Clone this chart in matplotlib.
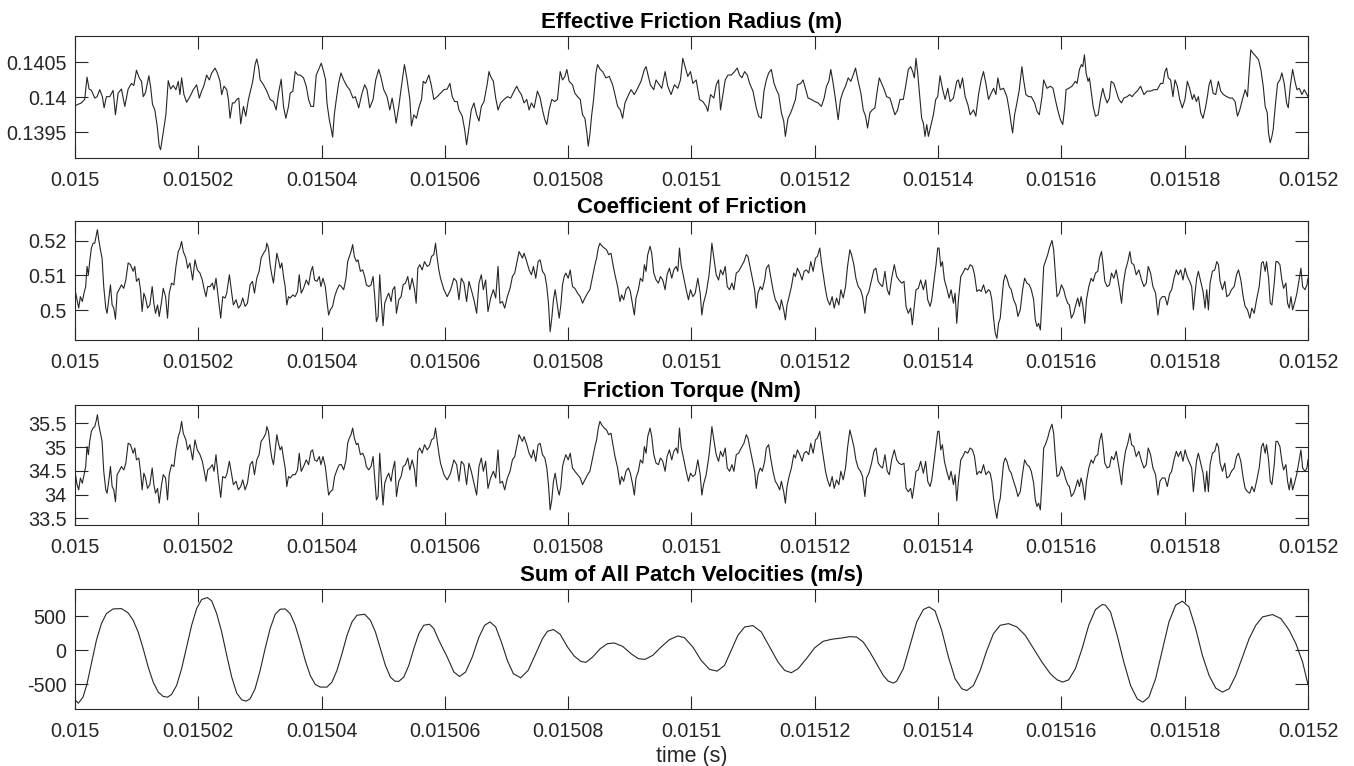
import numpy as np
import matplotlib
matplotlib.use("Agg")
import matplotlib.pyplot as plt
from matplotlib.ticker import FixedLocator, FixedFormatter

# time axis ticks
x_ticks = [0.015 + k * 0.00002 for k in range(11)]
x_labels = ["0.015", "0.01502", "0.01504", "0.01506", "0.01508", "0.0151",
            "0.01512", "0.01514", "0.01516", "0.01518", "0.0152"]

titles = ["Effective Friction Radius (m)", "Coefficient of Friction",
          "Friction Torque (Nm)", "Sum of All Patch Velocities (m/s)"]

# ---- effective friction radius: time in microseconds after 0.015 s ----
t_radius_us = [
    0.00, 0.49, 1.03, 1.57, 1.95, 2.28, 2.66, 3.20, 3.58, 4.01,
    4.44, 4.72, 5.09, 5.64, 6.18, 6.56, 6.99, 7.53, 8.08, 8.62,
    9.16, 9.54, 9.97, 10.41, 10.79, 11.06, 11.44, 11.98, 12.25, 12.57,
    12.95, 13.33, 13.66, 13.88, 14.15, 14.42, 14.74, 15.12, 15.50, 15.93,
    16.37, 16.75, 17.02, 17.29, 17.67, 18.10, 18.64, 19.19, 19.73, 20.16,
    20.54, 20.92, 21.35, 21.79, 22.17, 22.71, 23.09, 23.52, 23.79, 24.17,
    24.61, 24.88, 25.15, 25.53, 25.85, 26.23, 26.56, 26.88, 27.32, 27.70,
    28.13, 28.51, 28.83, 29.21, 29.48, 29.76, 30.03, 30.57, 31.11, 31.65,
    32.19, 32.63, 33.01, 33.44, 33.82, 34.20, 34.63, 34.90, 35.34, 35.72,
    36.15, 36.53, 37.07, 37.51, 37.89, 38.27, 38.70, 39.13, 39.51, 39.95,
    40.32, 40.65, 40.87, 41.25, 41.57, 41.79, 42.06, 42.38, 42.76, 43.14,
    43.58, 44.12, 44.55, 45.09, 45.47, 46.02, 46.56, 46.99, 47.37, 47.80,
    48.35, 48.78, 49.27, 49.65, 50.08, 50.62, 51.06, 51.44, 51.82, 52.09,
    52.52, 52.95, 53.44, 53.87, 54.31, 54.58, 54.96, 55.39, 55.77, 56.21,
    56.48, 56.86, 57.40, 57.78, 58.21, 58.75, 59.29, 59.84, 60.38, 60.81,
    61.19, 61.57, 62.00,
    62.28, 62.82, 63.20, 63.52, 63.90, 64.28, 64.71, 65.15, 65.53, 65.91,
    66.34, 66.88, 67.15, 67.42, 67.86, 68.24, 68.62, 69.05, 69.59, 70.13,
    70.68, 71.22, 71.65, 72.03, 72.41, 72.84, 73.28, 73.66, 74.04, 74.47,
    75.01, 75.45, 75.83, 76.21, 76.53, 76.91, 77.34, 77.83, 78.26, 78.70,
    79.08, 79.46, 79.78, 80.16, 80.70, 81.08, 81.52, 81.95, 82.33, 82.71,
    83.03, 83.25, 83.52, 83.79, 84.12, 84.50, 84.77, 85.20, 85.58, 86.12,
    86.67, 87.21, 87.59, 88.02, 88.45, 88.83, 89.21, 89.65, 90.19, 90.73,
    91.27, 91.81, 92.36, 92.63, 93.01, 93.33, 93.87, 94.25, 94.80, 95.18,
    95.72, 96.15, 96.69, 97.23, 97.78, 98.21, 98.59, 98.97, 99.40, 99.84,
    100.22, 100.76, 101.30, 101.84, 102.38, 102.65, 103.09, 103.63, 104.01, 104.39,
    104.71, 105.09, 105.47, 105.91, 106.45, 106.99, 107.42, 107.80, 108.18, 108.62,
    109.05, 109.43, 109.97, 110.51, 110.89, 111.33, 111.76, 112.14, 112.52, 112.95,
    113.39, 113.77, 114.15, 114.58, 114.96, 115.23, 115.66, 116.10, 116.48, 116.86,
    117.18, 117.72, 118.10, 118.48, 118.91, 119.46, 120.00, 120.54, 121.08, 121.52,
    121.90, 122.28, 122.60, 122.98, 123.36, 123.79, 124.17, 124.61, 124.99, 125.42,
    125.85, 126.23, 126.61, 127.04, 127.48, 127.86, 128.24, 128.56, 128.94, 129.32,
    129.75, 130.13, 130.46, 130.84, 131.27, 131.65, 132.19,
    133.00, 133.44, 133.82, 134.36, 134.74, 135.17, 135.55, 135.88, 136.15, 136.42,
    136.69, 137.07, 137.34, 137.61, 137.88, 138.16, 138.43, 138.81, 139.24, 139.62,
    139.94, 140.32, 140.70, 141.14, 141.57, 141.95, 142.49, 143.03, 143.30, 143.58,
    143.96, 144.39, 144.82, 145.20, 145.74, 146.12, 146.56, 146.99, 147.37, 147.75,
    148.18, 148.62, 149.00, 149.38, 149.70, 150.08, 150.62, 151.16, 151.54, 151.87,
    152.09, 152.41, 152.79, 153.17, 153.60, 153.87, 154.25, 154.69, 155.12, 155.66,
    156.04, 156.42, 156.86, 157.13, 157.67, 158.21, 158.64, 159.02, 159.40, 159.84,
    160.22, 160.54, 160.76, 161.19, 161.73, 162.27, 162.55, 162.93, 163.25, 163.47,
    163.74, 164.01, 164.33, 164.55, 164.88, 165.15, 165.53, 165.96, 166.34, 166.72,
    167.04, 167.42, 167.80, 168.07, 168.51, 168.89, 169.32, 169.75, 170.13, 170.68,
    171.06, 171.49, 171.92, 172.30, 172.84, 173.39, 173.93, 174.47, 175.01, 175.55,
    176.10, 176.48, 176.80, 177.07, 177.34, 177.72, 178.10, 178.43, 178.81, 179.19,
    179.62, 180.05, 180.43, 180.81, 181.24, 181.52, 181.90, 182.22, 182.60, 182.98,
    183.41, 183.68, 183.96, 184.23, 184.61, 185.04, 185.47, 185.85, 186.29, 186.83,
    187.32, 187.75, 188.18, 188.56, 188.94, 189.37, 189.81, 190.19, 190.46, 190.73,
    191.11, 191.54, 191.98, 192.36, 192.74, 193.06, 193.39, 193.60, 193.87, 194.15,
    194.36, 194.69, 195.07, 195.45, 195.77, 196.15, 196.53, 196.80, 197.13, 197.51,
    197.89, 198.21, 198.59, 199.02, 199.40, 199.84, 200.00,
]
radius = [
    0.13988, 0.13990, 0.13992, 0.13997, 0.14029, 0.14012, 0.14010, 0.13999, 0.14001, 0.14011,
    0.14001, 0.13985, 0.14001, 0.14001, 0.14010, 0.13975, 0.14006, 0.14012, 0.13987, 0.14012,
    0.14020, 0.14017, 0.14039, 0.14028, 0.14023, 0.14001, 0.14007, 0.14031, 0.14016, 0.13990,
    0.13982, 0.13959, 0.13930, 0.13925, 0.13940, 0.13956, 0.13975, 0.14024, 0.14012, 0.14017,
    0.14011, 0.14023, 0.14004, 0.14028, 0.14004, 0.13993, 0.14001, 0.14011, 0.14018, 0.13999,
    0.14009, 0.14017, 0.14032, 0.14025, 0.14035, 0.14042, 0.14035, 0.14023, 0.14004, 0.14016,
    0.14011, 0.13997, 0.13970, 0.13992, 0.13992, 0.13997, 0.13999, 0.13962, 0.13987, 0.13973,
    0.13997, 0.14011, 0.14023, 0.14047, 0.14055, 0.14044, 0.14025, 0.14018, 0.14009, 0.13997,
    0.13994, 0.13982, 0.14006, 0.14026, 0.13987, 0.13970, 0.13987, 0.14006, 0.14009, 0.14037,
    0.14032, 0.14032, 0.14028, 0.14016, 0.13997, 0.13987, 0.13987, 0.14032, 0.14040, 0.14049,
    0.14037, 0.14025, 0.13992, 0.13968, 0.13954, 0.13943, 0.13975, 0.13997, 0.14020, 0.14035,
    0.14025, 0.14016, 0.14011, 0.13999, 0.14001, 0.13985, 0.14006, 0.14018, 0.14011, 0.13985,
    0.13997, 0.14025, 0.14040, 0.14028, 0.14011, 0.14001, 0.13982, 0.13999, 0.13980, 0.13963,
    0.13987, 0.14016, 0.14047, 0.14025, 0.13997, 0.13959, 0.13975, 0.13970, 0.13985, 0.13997,
    0.14023, 0.14020, 0.14032, 0.14018, 0.13997, 0.14001, 0.14006, 0.14011, 0.14012, 0.14020,
    0.14001, 0.13994, 0.13994,
    0.13982, 0.13973, 0.13954, 0.13932, 0.13956, 0.13982, 0.13992, 0.13975, 0.13966, 0.13987,
    0.13994, 0.14020, 0.14037, 0.14030, 0.14023, 0.13999, 0.13982, 0.13992, 0.13997, 0.14001,
    0.13999, 0.14009, 0.14016, 0.14009, 0.14004, 0.13992, 0.13997, 0.13982, 0.13992, 0.13985,
    0.14009, 0.13999, 0.13982, 0.13968, 0.13961, 0.13982, 0.13997, 0.13994, 0.13997, 0.14037,
    0.14025, 0.14030, 0.14040, 0.14023, 0.14018, 0.14006, 0.14001, 0.13997, 0.13975, 0.13970,
    0.13949, 0.13930, 0.13947, 0.13973, 0.13997, 0.14035, 0.14047, 0.14040, 0.14037, 0.14028,
    0.14030, 0.14018, 0.14004, 0.13987, 0.13982, 0.13970, 0.13992, 0.14001, 0.14011, 0.14004,
    0.14013, 0.14023, 0.14040, 0.14044, 0.14030, 0.14018, 0.14011, 0.14025, 0.14018, 0.14013,
    0.14037, 0.14016, 0.14004, 0.14018, 0.14013, 0.14025, 0.14056, 0.14044, 0.14030, 0.14037,
    0.14020, 0.14025, 0.13997, 0.13994, 0.13987, 0.13980, 0.14004, 0.13999, 0.14018, 0.14025,
    0.13982, 0.14004, 0.14025, 0.14032, 0.14032, 0.14037, 0.14042, 0.14032, 0.14028, 0.14037,
    0.14032, 0.14020, 0.14009, 0.13985, 0.13973, 0.13970, 0.14009, 0.14025, 0.14035, 0.14040,
    0.14020, 0.14011, 0.14004, 0.13978, 0.13966, 0.13944, 0.13970, 0.13978, 0.13987, 0.13997,
    0.14018, 0.14020, 0.14025, 0.14013, 0.13999, 0.13997, 0.13994, 0.13992, 0.13987, 0.13999,
    0.14016, 0.14023, 0.14040, 0.14020, 0.13997, 0.13968, 0.13997, 0.14009, 0.14016, 0.14028,
    0.14023, 0.14032, 0.14042, 0.14023, 0.14006, 0.13982, 0.13973, 0.13956, 0.13978, 0.13982,
    0.13985, 0.14009, 0.14028, 0.14020, 0.14011, 0.14001, 0.13999,
    0.13975, 0.13982, 0.13997, 0.13997, 0.14016, 0.14040, 0.14044, 0.14037, 0.14028, 0.14056,
    0.14035, 0.13997, 0.13970, 0.13963, 0.13944, 0.13961, 0.13944, 0.13959, 0.13975, 0.13997,
    0.14001, 0.14031, 0.14013, 0.13997, 0.14013, 0.13994, 0.13999, 0.14023, 0.14025, 0.14013,
    0.14028, 0.14001, 0.13990, 0.13975, 0.13982, 0.13973, 0.14004, 0.14025, 0.14037, 0.14020,
    0.13997, 0.14006, 0.14013, 0.14004, 0.14028, 0.14011, 0.14013, 0.14001, 0.13982, 0.13961,
    0.13949, 0.13975, 0.13992, 0.14011, 0.14044, 0.14025, 0.14004, 0.14001, 0.14001, 0.13992,
    0.13980, 0.13975, 0.14001, 0.14025, 0.14013, 0.14016, 0.14013, 0.13997, 0.13982, 0.13968,
    0.13961, 0.13985, 0.14011, 0.14013, 0.14016, 0.14023, 0.14020, 0.14040, 0.14047, 0.14044,
    0.14061, 0.14035, 0.14023, 0.14028, 0.14006, 0.13987, 0.13973, 0.13975, 0.13997, 0.14013,
    0.14001, 0.13992, 0.13999, 0.14023, 0.14020, 0.14009, 0.13997, 0.13992, 0.13999, 0.14001,
    0.14004, 0.14001, 0.14006, 0.14009, 0.14016, 0.14004, 0.14009, 0.14009, 0.14011, 0.14011,
    0.14020, 0.14020, 0.14037, 0.14042, 0.14028, 0.14025, 0.14001, 0.14025, 0.14016, 0.13997,
    0.13985, 0.13997, 0.14023, 0.14013, 0.13997, 0.14004, 0.13994, 0.14001, 0.13978, 0.13970,
    0.13987, 0.14001, 0.14018, 0.14025, 0.14006, 0.14004, 0.14023, 0.14009, 0.14004, 0.14001,
    0.13999, 0.13999, 0.13994, 0.13973, 0.13982, 0.13997, 0.14011, 0.14001, 0.14037, 0.14068,
    0.14063, 0.14059, 0.14054, 0.14040, 0.14016, 0.13987, 0.13978, 0.13949, 0.13935, 0.13944,
    0.13954, 0.13987, 0.14020, 0.14025, 0.14035, 0.14020, 0.13992, 0.13985, 0.14016, 0.14040,
    0.14023, 0.14011, 0.14013, 0.14004, 0.14011, 0.14004, 0.14001,
]

# ---- coefficient of friction and friction torque share one time base ----
t_mu_us = [
    0.00, 0.33, 0.60, 0.87, 1.19, 1.46, 1.73, 1.95, 2.17, 2.38,
    2.66, 2.93, 3.20, 3.47, 3.63, 3.85, 4.17, 4.39, 4.66, 4.99,
    5.20, 5.47, 5.75, 6.02, 6.29, 6.56, 6.83, 7.15, 7.53, 7.91,
    8.24, 8.62, 9.00, 9.43, 9.70, 9.97, 10.35, 10.62, 10.89, 11.17,
    11.44, 11.76, 12.14, 12.52, 12.79, 13.06, 13.39, 13.66, 14.04, 14.31,
    14.69, 15.01, 15.28, 15.66, 16.04, 16.37, 16.75, 17.02, 17.29, 17.56,
    17.99, 18.27, 18.64, 19.08, 19.46, 19.84, 20.27, 20.65, 20.92, 21.25,
    21.52, 21.90, 22.28, 22.55, 22.87, 23.25, 23.63, 23.96, 24.34, 24.61,
    25.04, 25.42, 25.69, 26.12, 26.50, 26.88, 27.21, 27.59, 27.97, 28.40,
    28.78, 29.11, 29.48, 29.86, 30.19, 30.57, 30.95, 31.11, 31.38, 31.65,
    31.92, 32.19, 32.47, 32.74, 33.01, 33.28, 33.55, 33.82, 34.09, 34.36,
    34.63, 34.90, 35.34, 35.72, 36.10, 36.37, 36.69, 37.07, 37.51, 37.89,
    38.27, 38.54, 38.86, 39.24, 39.62, 39.89, 40.22, 40.60, 40.87, 41.14,
    41.41, 41.79, 42.11, 42.49, 42.87, 43.20, 43.58, 43.96, 44.23, 44.50,
    44.77, 45.04, 45.31, 45.64, 45.91, 46.29, 46.67, 46.99, 47.26, 47.64,
    48.02, 48.35, 48.62, 48.89, 49.16, 49.43, 49.70, 49.97, 50.24, 50.62,
    50.89, 51.27, 51.54, 51.87, 52.14, 52.52, 52.90, 53.22, 53.60, 53.98,
    54.31, 54.69, 55.07, 55.34, 55.61, 55.93, 56.31, 56.69, 57.13, 57.51,
    57.83, 58.21, 58.48, 58.75, 59.02, 59.29,
    59.84, 60.38, 60.92, 61.46, 61.90, 62.28, 62.66, 63.09, 63.52, 63.90,
    64.28, 64.71, 65.15, 65.53, 65.91, 66.23, 66.61, 66.99, 67.42, 67.86,
    68.24, 68.62, 68.94, 69.32, 69.70, 70.13, 70.57, 70.95, 71.33, 71.65,
    72.03, 72.30, 72.57, 72.84, 73.28, 73.66, 74.04, 74.36, 74.74, 75.12,
    75.45, 75.83, 76.21, 76.53, 76.80, 77.07, 77.34, 77.61, 77.89, 78.26,
    78.54, 78.81, 79.08, 79.35, 79.62, 80.00, 80.33, 80.70, 81.08, 81.52,
    81.95, 82.33, 82.71, 83.14, 83.52, 83.96, 84.34, 84.61, 84.88, 85.15,
    85.42, 85.85, 86.23, 86.56, 86.94, 87.32, 87.59, 88.02, 88.40, 88.67,
    89.00, 89.38, 89.76, 90.08, 90.46, 90.73, 91.00, 91.38, 91.71, 92.09,
    92.36, 92.63, 92.90, 93.28, 93.55, 93.88, 94.26, 94.64, 94.96, 95.34,
    95.72, 96.04, 96.42, 96.80, 97.13, 97.51, 97.78, 98.05, 98.32, 98.70,
    99.14, 99.51, 99.84, 100.22, 100.60, 101.03, 101.41, 101.68, 101.95, 102.38,
    102.82, 103.09, 103.31, 103.63, 104.01, 104.39, 104.71, 105.09, 105.47, 105.80,
    106.18, 106.56, 106.88, 107.26, 107.64, 108.07, 108.51, 108.89, 109.16, 109.43,
    109.81, 110.24, 110.51, 110.78, 111.16, 111.49, 111.87, 112.14, 112.52, 112.84,
    113.22, 113.60, 113.93, 114.31, 114.58, 114.96, 115.23, 115.50, 115.83, 116.21,
    116.59, 116.86, 117.18, 117.56, 117.94, 118.27, 118.64, 119.02, 119.35, 119.73,
    120.11, 120.43, 120.81, 121.09, 121.47, 121.74, 122.06, 122.44, 122.82, 123.15,
    123.53, 123.91, 124.23, 124.61, 124.99, 125.31, 125.69, 125.96, 126.34, 126.67,
    127.04, 127.42, 127.75, 128.13, 128.40, 128.78, 129.21, 129.59, 129.92, 130.30,
    130.68, 131.00, 131.38, 131.76, 132.09, 132.47,
    132.90, 133.28, 133.66, 134.09, 134.47, 134.80, 135.17, 135.55, 135.82, 136.15,
    136.42, 136.80, 137.18, 137.61, 137.99, 138.32, 138.70, 138.97, 139.35, 139.67,
    139.94, 140.16, 140.43, 140.70, 141.03, 141.41, 141.79, 142.11, 142.49, 142.76,
    143.03, 143.30, 143.68, 144.01, 144.39, 144.82, 145.20, 145.58, 145.91, 146.29,
    146.67, 146.99, 147.37, 147.75, 148.18, 148.45, 148.72, 149.00, 149.27, 149.54,
    149.81, 150.08, 150.35, 150.62, 150.90, 151.17, 151.54, 151.87, 152.25, 152.63,
    152.95, 153.33, 153.71, 154.04, 154.42, 154.80, 155.12, 155.50, 155.77, 156.04,
    156.31, 156.59, 156.86, 157.13, 157.40, 157.78, 158.05, 158.32, 158.48, 158.75,
    159.02, 159.29, 159.67, 160.00, 160.38, 160.65, 161.03, 161.30, 161.62, 162.00,
    162.27, 162.65, 162.93, 163.20, 163.47, 163.80, 164.07, 164.45, 164.83, 165.15,
    165.53, 165.91, 166.18, 166.51, 166.72, 167.05, 167.43, 167.81, 168.13, 168.51,
    168.89, 169.22, 169.49, 169.76, 170.03, 170.40, 170.78, 171.11, 171.38, 171.76,
    172.14, 172.57, 173.01, 173.39, 173.77, 174.09, 174.47, 174.85, 175.28, 175.66,
    175.99, 176.37, 176.80, 177.18, 177.56, 177.89, 178.27, 178.65, 178.97, 179.35,
    179.73, 180.06, 180.44, 180.82, 181.14, 181.41, 181.68, 181.95, 182.22, 182.60,
    182.98, 183.31, 183.58, 183.85, 184.12, 184.50, 184.88, 185.21, 185.48, 185.75,
    186.13, 186.51, 186.83, 187.21, 187.59, 188.03, 188.41, 188.73, 189.11, 189.49,
    189.81, 190.19, 190.57, 190.90, 191.28, 191.66, 192.09, 192.47, 192.74, 193.06,
    193.28, 193.61, 193.88, 194.15, 194.53, 194.80, 195.07, 195.45, 195.77, 196.04,
    196.42, 196.69, 196.96, 197.24, 197.51, 197.89, 198.21, 198.59, 198.86, 199.13,
    199.51, 199.84, 200.00,
]
friction_coef = [
    0.5059, 0.5030, 0.5006, 0.5039, 0.5025, 0.5049, 0.5068, 0.5126, 0.5102, 0.5140,
    0.5179, 0.5193, 0.5193, 0.5217, 0.5232, 0.5203, 0.5169, 0.5150, 0.5068, 0.5006,
    0.4991, 0.5030, 0.5073, 0.5015, 0.5006, 0.4974, 0.5049, 0.5059, 0.5073, 0.5063,
    0.5087, 0.5136, 0.5131, 0.5112, 0.5126, 0.5083, 0.5092, 0.5059, 0.4996, 0.5049,
    0.5035, 0.5006, 0.5015, 0.5068, 0.5020, 0.4991, 0.5015, 0.4982, 0.5025, 0.5063,
    0.5039, 0.4977, 0.5049, 0.5078, 0.5073, 0.5126, 0.5169, 0.5179, 0.5198, 0.5169,
    0.5150, 0.5121, 0.5136, 0.5087, 0.5145, 0.5116, 0.5107, 0.5087, 0.5063, 0.5039,
    0.5068, 0.5068, 0.5078, 0.5059, 0.5092, 0.5035, 0.4977, 0.5039, 0.5035, 0.5049,
    0.5102, 0.5049, 0.5015, 0.5030, 0.5006, 0.5015, 0.5035, 0.5011, 0.5020, 0.5073,
    0.5083, 0.5049, 0.5092, 0.5112, 0.5150, 0.5164, 0.5174, 0.5193, 0.5179, 0.5131,
    0.5102, 0.5078, 0.5121, 0.5164, 0.5145, 0.5121, 0.5136, 0.5097, 0.5068, 0.5015,
    0.5039, 0.5035, 0.5044, 0.5039, 0.5054, 0.5102, 0.5049, 0.5063, 0.5087, 0.5073,
    0.5112, 0.5126, 0.5087, 0.5083, 0.5097, 0.5068, 0.5092, 0.5068, 0.5025, 0.4986,
    0.5001, 0.5011, 0.5039, 0.5059, 0.5073, 0.5068, 0.5059, 0.5092, 0.5140, 0.5155,
    0.5169, 0.5189, 0.5155, 0.5140, 0.5145, 0.5112, 0.5116, 0.5097, 0.5073, 0.5068,
    0.5073, 0.5097, 0.5039, 0.4967, 0.4982, 0.5102, 0.5020, 0.4955, 0.5020, 0.5039,
    0.5049, 0.5025, 0.5059, 0.5068, 0.4991, 0.5030, 0.5039, 0.5073, 0.5078, 0.5097,
    0.5059, 0.5092, 0.5059, 0.5020, 0.5121, 0.5131, 0.5116, 0.5140, 0.5126, 0.5131,
    0.5155, 0.5160, 0.5193, 0.5150, 0.5116, 0.5092,
    0.5059, 0.5039, 0.5059, 0.5092, 0.5083, 0.5030, 0.5092, 0.5078, 0.5025, 0.5083,
    0.5059, 0.5030, 0.4991, 0.5078, 0.5102, 0.5059, 0.5087, 0.4996, 0.5035, 0.5059,
    0.5035, 0.5126, 0.5020, 0.5025, 0.5006, 0.5039, 0.5063, 0.5097, 0.5107, 0.5136,
    0.5169, 0.5160, 0.5150, 0.5164, 0.5140, 0.5116, 0.5102, 0.5126, 0.5092, 0.5140,
    0.5145, 0.5112, 0.5102, 0.5068, 0.5020, 0.4938, 0.4977, 0.5030, 0.5059, 0.5011,
    0.4977, 0.5015, 0.5073, 0.5097, 0.5107, 0.5092, 0.5116, 0.5068, 0.5063, 0.5049,
    0.5039, 0.5020, 0.5035, 0.5049, 0.5059, 0.5097, 0.5131, 0.5150, 0.5179, 0.5193,
    0.5186, 0.5179, 0.5174, 0.5160, 0.5164, 0.5126, 0.5102, 0.5068, 0.5025, 0.5044,
    0.5030, 0.5059, 0.5068, 0.5054, 0.5015, 0.4986, 0.5035, 0.5059, 0.5092, 0.5083,
    0.5131, 0.5112, 0.5160, 0.5184, 0.5164, 0.5107, 0.5087, 0.5078, 0.5097, 0.5087,
    0.5059, 0.5102, 0.5121, 0.5092, 0.5116, 0.5126, 0.5112, 0.5179, 0.5131, 0.5097,
    0.5059, 0.5030, 0.5059, 0.5039, 0.5049, 0.5092, 0.5049, 0.4986, 0.5020, 0.5049,
    0.5097, 0.5145, 0.5193, 0.5150, 0.5102, 0.5087, 0.5116, 0.5102, 0.5126, 0.5068,
    0.5059, 0.5078, 0.5059, 0.5107, 0.5112, 0.5126, 0.5140, 0.5160, 0.5155, 0.5131,
    0.5097, 0.5059, 0.5006, 0.5049, 0.5068, 0.5059, 0.5087, 0.5121, 0.5131, 0.5097,
    0.5059, 0.5030, 0.5020, 0.5001, 0.5030, 0.5001, 0.4972, 0.5015, 0.5039, 0.5068,
    0.5107, 0.5097, 0.5121, 0.5107, 0.5087, 0.5112, 0.5116, 0.5107, 0.5140, 0.5112,
    0.5150, 0.5155, 0.5179, 0.5136, 0.5092, 0.5059, 0.5030, 0.5015, 0.5039, 0.5006,
    0.5035, 0.5015, 0.5059, 0.5035, 0.5068, 0.5126, 0.5174, 0.5160, 0.5131, 0.5092,
    0.5068, 0.5059, 0.5039, 0.4991, 0.5039, 0.5054, 0.5087, 0.5116, 0.5121, 0.5083,
    0.5073, 0.5068, 0.5112, 0.5059, 0.5044, 0.5092,
    0.5131, 0.5097, 0.5087, 0.5078, 0.5083, 0.5011, 0.4991, 0.5006, 0.4958, 0.5015,
    0.5059, 0.5063, 0.5087, 0.5059, 0.5087, 0.5030, 0.5011, 0.5030, 0.5087, 0.5131,
    0.5179, 0.5179, 0.5126, 0.5140, 0.5087, 0.5063, 0.5035, 0.5059, 0.5020, 0.5049,
    0.4962, 0.5030, 0.5097, 0.5107, 0.5121, 0.5116, 0.5131, 0.5126, 0.5102, 0.5054,
    0.5059, 0.5054, 0.5073, 0.5049, 0.5059, 0.5054, 0.5030, 0.4977, 0.4934, 0.4919,
    0.4962, 0.4977, 0.5030, 0.5083, 0.5102, 0.5092, 0.5068, 0.5059, 0.5030, 0.5015,
    0.4982, 0.5001, 0.5059, 0.5092, 0.5078, 0.5073, 0.5059, 0.5030, 0.4972, 0.4953,
    0.4962, 0.4943, 0.5030, 0.5126, 0.5140, 0.5160, 0.5179, 0.5193, 0.5201, 0.5174,
    0.5107, 0.5039, 0.5049, 0.5073, 0.5059, 0.5039, 0.5020, 0.5015, 0.4977, 0.4991,
    0.5011, 0.5035, 0.5011, 0.5039, 0.5015, 0.4962, 0.5030, 0.5068, 0.5092, 0.5083,
    0.5107, 0.5112, 0.5150, 0.5169, 0.5140, 0.5083, 0.5068, 0.5073, 0.5107, 0.5092,
    0.5116, 0.5083, 0.5054, 0.5020, 0.5073, 0.5116, 0.5140, 0.5169, 0.5136, 0.5131,
    0.5102, 0.5116, 0.5087, 0.5068, 0.5078, 0.5126, 0.5107, 0.5068, 0.5049, 0.4986,
    0.5030, 0.5039, 0.5039, 0.5015, 0.5049, 0.5059, 0.5092, 0.5116, 0.5102, 0.5116,
    0.5087, 0.5121, 0.5097, 0.5083, 0.5068, 0.5001, 0.5049, 0.5092, 0.5112, 0.5083,
    0.5054, 0.5006, 0.5059, 0.5001, 0.5078, 0.5112, 0.5116, 0.5140, 0.5131, 0.5083,
    0.5059, 0.5083, 0.5039, 0.5044, 0.5059, 0.5068, 0.5102, 0.5116, 0.5087, 0.5039,
    0.5011, 0.5001, 0.4977, 0.5006, 0.4991, 0.5030, 0.5068, 0.5136, 0.5140, 0.5112,
    0.5140, 0.5092, 0.5020, 0.5015, 0.5078, 0.5140, 0.5140, 0.5131, 0.5087, 0.5063,
    0.5078, 0.5020, 0.5006, 0.5039, 0.5001, 0.5025, 0.5049, 0.5092, 0.5121, 0.5068,
    0.5059, 0.5073, 0.5092,
]
torque = [
    34.49, 34.21, 34.10, 34.35, 34.24, 34.42, 34.59, 35.01, 34.84, 35.12,
    35.33, 35.40, 35.43, 35.57, 35.68, 35.47, 35.26, 35.12, 34.49, 34.10,
    34.03, 34.28, 34.59, 34.17, 34.10, 33.85, 34.42, 34.49, 34.59, 34.52,
    34.66, 35.08, 35.05, 34.87, 34.98, 34.73, 34.77, 34.49, 34.10, 34.45,
    34.35, 34.13, 34.21, 34.56, 34.21, 34.03, 34.13, 33.82, 34.21, 34.42,
    34.35, 33.89, 34.42, 34.63, 34.59, 34.94, 35.22, 35.33, 35.54, 35.29,
    35.15, 34.94, 35.05, 34.73, 35.15, 34.94, 34.84, 34.70, 34.52, 34.28,
    34.52, 34.56, 34.63, 34.49, 34.84, 34.35, 33.94, 34.38, 34.35, 34.42,
    34.70, 34.42, 34.21, 34.28, 34.10, 34.17, 34.31, 34.10, 34.24, 34.63,
    34.70, 34.42, 34.73, 34.84, 35.12, 35.19, 35.29, 35.43, 35.33, 35.01,
    34.77, 34.63, 34.94, 35.26, 35.08, 34.94, 35.01, 34.77, 34.56, 34.17,
    34.38, 34.35, 34.42, 34.42, 34.52, 34.87, 34.49, 34.59, 34.73, 34.63,
    34.91, 34.94, 34.73, 34.70, 34.80, 34.63, 34.80, 34.59, 34.28, 33.99,
    34.06, 34.10, 34.38, 34.52, 34.63, 34.63, 34.52, 34.73, 35.08, 35.19,
    35.26, 35.40, 35.19, 35.05, 35.08, 34.84, 34.87, 34.77, 34.59, 34.52,
    34.59, 34.80, 34.35, 33.89, 33.96, 34.87, 34.28, 33.78, 34.24, 34.38,
    34.45, 34.28, 34.52, 34.70, 33.96, 34.28, 34.38, 34.59, 34.63, 34.77,
    34.52, 34.73, 34.52, 34.17, 34.91, 34.98, 34.87, 35.05, 34.94, 35.01,
    35.15, 35.19, 35.40, 35.12, 34.87, 34.66,
    34.42, 34.31, 34.45, 34.73, 34.63, 34.28, 34.70, 34.63, 34.21, 34.66,
    34.49, 34.24, 33.99, 34.59, 34.77, 34.49, 34.70, 34.13, 34.35, 34.49,
    34.35, 34.94, 34.24, 34.28, 34.10, 34.35, 34.49, 34.73, 34.80, 35.01,
    35.26, 35.19, 35.12, 35.22, 35.05, 34.87, 34.77, 34.94, 34.70, 35.05,
    35.08, 34.84, 34.77, 34.56, 34.21, 33.68, 33.89, 34.28, 34.45, 34.13,
    33.99, 34.17, 34.59, 34.73, 34.84, 34.73, 34.87, 34.56, 34.49, 34.42,
    34.35, 34.21, 34.31, 34.42, 34.49, 34.77, 35.01, 35.15, 35.40, 35.54,
    35.47, 35.40, 35.36, 35.26, 35.29, 35.01, 34.80, 34.56, 34.21, 34.38,
    34.28, 34.49, 34.56, 34.45, 34.21, 33.99, 34.35, 34.49, 34.73, 34.66,
    35.01, 34.87, 35.22, 35.40, 35.22, 34.84, 34.66, 34.63, 34.77, 34.70,
    34.49, 34.80, 34.94, 34.73, 34.91, 34.98, 34.87, 35.40, 35.01, 34.77,
    34.49, 34.28, 34.45, 34.38, 34.42, 34.73, 34.42, 33.99, 34.21, 34.42,
    34.80, 35.12, 35.43, 35.15, 34.84, 34.70, 34.91, 34.80, 34.98, 34.56,
    34.49, 34.63, 34.49, 34.84, 34.87, 34.98, 35.08, 35.26, 35.19, 35.01,
    34.77, 34.49, 34.13, 34.42, 34.56, 34.49, 34.70, 34.98, 35.05, 34.77,
    34.49, 34.28, 34.21, 34.10, 34.28, 34.06, 33.82, 34.17, 34.38, 34.56,
    34.84, 34.77, 34.94, 34.84, 34.70, 34.87, 34.91, 34.84, 35.08, 34.87,
    35.15, 35.19, 35.33, 35.05, 34.73, 34.49, 34.31, 34.17, 34.38, 34.13,
    34.31, 34.21, 34.49, 34.31, 34.56, 34.98, 35.36, 35.22, 35.01, 34.73,
    34.56, 34.49, 34.38, 33.96, 34.35, 34.45, 34.66, 34.91, 34.98, 34.66,
    34.59, 34.56, 34.84, 34.49, 34.42, 34.73,
    34.94, 34.73, 34.66, 34.63, 34.66, 34.13, 34.06, 34.13, 33.92, 34.21,
    34.49, 34.52, 34.70, 34.45, 34.70, 34.28, 34.17, 34.31, 34.70, 35.05,
    35.33, 35.33, 34.94, 35.05, 34.70, 34.49, 34.31, 34.49, 34.21, 34.42,
    33.87, 34.28, 34.73, 34.80, 34.91, 34.87, 34.98, 34.94, 34.80, 34.42,
    34.49, 34.45, 34.63, 34.42, 34.49, 34.45, 34.28, 33.92, 33.68, 33.50,
    33.78, 33.92, 34.28, 34.66, 34.77, 34.70, 34.52, 34.45, 34.28, 34.13,
    33.96, 34.06, 34.45, 34.73, 34.63, 34.59, 34.49, 34.24, 33.89, 33.75,
    33.82, 33.68, 34.28, 34.98, 35.05, 35.19, 35.33, 35.43, 35.48, 35.29,
    34.80, 34.38, 34.42, 34.59, 34.49, 34.35, 34.21, 34.17, 33.96, 34.03,
    34.13, 34.31, 34.17, 34.35, 34.21, 33.89, 34.28, 34.56, 34.73, 34.66,
    34.80, 34.84, 35.12, 35.29, 35.08, 34.66, 34.56, 34.59, 34.80, 34.73,
    34.91, 34.66, 34.45, 34.21, 34.59, 34.91, 35.08, 35.29, 35.05, 35.01,
    34.80, 34.91, 34.70, 34.56, 34.63, 34.98, 34.84, 34.56, 34.42, 33.99,
    34.28, 34.35, 34.35, 34.17, 34.42, 34.49, 34.73, 34.91, 34.80, 34.91,
    34.70, 34.94, 34.77, 34.66, 34.56, 34.06, 34.42, 34.73, 34.87, 34.66,
    34.45, 34.06, 34.49, 34.06, 34.63, 34.87, 34.91, 35.08, 35.01, 34.66,
    34.49, 34.66, 34.35, 34.38, 34.49, 34.56, 34.80, 34.87, 34.70, 34.35,
    34.13, 34.06, 34.03, 34.17, 34.06, 34.28, 34.56, 35.01, 35.08, 34.87,
    35.05, 34.73, 34.28, 34.21, 34.63, 35.12, 35.12, 35.01, 34.70, 34.52,
    34.63, 34.28, 34.10, 34.35, 34.10, 34.28, 34.45, 34.73, 34.94, 34.56,
    34.49, 34.56, 34.73,
]

# ---- sum of all patch velocities ----
t_vel_us = [
    0.00, 0.54, 1.30, 1.95, 2.66, 3.47, 4.28, 5.09, 6.18, 7.53,
    8.62, 9.43, 10.24, 11.06, 11.87, 12.68, 13.50, 14.31, 15.01, 15.66,
    16.48, 17.29, 18.10, 18.92, 19.73, 20.54, 21.46, 22.17, 22.98, 23.79,
    24.61, 25.42, 26.23, 27.05, 27.75, 28.40, 29.21, 30.03, 30.84, 31.65,
    32.47, 33.28, 34.09, 34.90, 35.72, 36.53, 37.34, 38.16, 38.97, 39.78,
    40.87, 41.68, 42.49, 43.31, 44.12, 44.93, 45.74, 46.99, 47.91, 48.73,
    49.54, 50.35, 51.16, 51.87, 52.52, 53.33, 54.15, 54.96, 55.77, 56.58,
    57.51, 58.21, 59.02, 60.38, 61.46, 62.38, 63.36, 64.44, 65.53, 66.45,
    67.32, 68.24, 69.16, 70.13, 71.11, 72.30, 73.50, 74.74, 75.83, 76.64,
    77.61, 78.70, 79.89, 80.97, 82.06, 82.87, 83.96, 85.20, 86.39, 87.48,
    88.83, 90.19, 91.38, 92.47, 93.71, 95.07, 96.42, 97.78, 98.86, 100.22,
    101.57, 102.93, 104.17, 105.36, 106.45, 107.53, 108.62, 109.97, 111.33, 112.68,
    114.04, 115.12, 116.20, 117.29, 118.64, 120.00, 121.35, 122.71, 124.33, 125.69,
    126.77, 127.86, 128.94, 130.03, 131.11, 131.92, 132.74, 133.28, 134.36, 135.45,
    136.53, 137.61, 138.54, 139.51, 140.59, 141.68, 142.76, 143.85, 144.66, 145.74,
    146.83, 147.91, 148.99, 150.08, 151.43, 152.79, 154.14, 155.50, 156.85, 158.21,
    159.29, 160.22, 161.19, 162.27, 163.36, 164.44, 165.53, 166.61, 167.15, 167.97,
    169.05, 170.13, 171.22, 172.30, 173.22, 174.20, 175.28, 176.37, 177.45, 178.53,
    179.62, 180.70, 181.79, 182.87, 183.96, 185.04, 186.12, 187.21, 188.29, 189.37,
    190.46, 191.54, 192.63, 194.25, 195.61, 196.96, 198.04, 199.13, 200.00,
]
velocity_sum = [
    -730, -779, -690, -493, -197, 148, 394, 542, 611, 616,
    552, 444, 271, 25, -247, -468, -616, -680, -690, -651,
    -518, -271, 49, 370, 616, 749, 779, 730, 542, 271,
    -74, -394, -631, -730, -749, -715, -567, -296, 25, 320,
    532, 606, 611, 542, 370, 123, -148, -370, -503, -542,
    -542, -468, -296, -49, 222, 419, 518, 532, 444, 271,
    25, -222, -394, -454, -458, -394, -222, 25, 247, 370,
    385, 320, 148, -99, -320, -385, -320, -99, 197, 370,
    419, 345, 123, -148, -345, -404, -296, -49, 173, 281,
    306, 237, 49, -84, -163, -177, -99, 25, 99, 108,
    59, -49, -123, -133, -74, 49, 158, 212, 187, 49,
    -148, -281, -306, -222, 0, 222, 345, 365, 271, 49,
    -173, -296, -330, -271, -123, 39, 133, 163, 182, 202,
    197, 123, -25, -197, -370, -454, -483, -454, -271, 74,
    419, 601, 641, 582, 296, -99, -419, -567, -592, -518,
    -296, 0, 247, 370, 394, 345, 222, 25, -173, -345,
    -434, -468, -434, -271, 25, 370, 601, 675, 666, 567,
    222, -173, -518, -715, -764, -690, -419, 0, 419, 666,
    725, 641, 320, -74, -370, -557, -616, -567, -370, -99,
    173, 370, 493, 528, 468, 296, 99, -173, -503,
]

y_ticks = [[0.1395, 0.14, 0.1405], [0.5, 0.51, 0.52],
           [33.5, 34, 34.5, 35, 35.5], [-500, 0, 500]]
y_labels = [["0.1395", "0.14", "0.1405"], ["0.5", "0.51", "0.52"],
            ["33.5", "34", "34.5", "35", "35.5"], ["-500", "0", "500"]]
y_limits = [(0.13913, 0.14088), (0.4914, 0.5257), (33.36, 35.885), (-865, 905)]

plt.rcParams['font.family'] = ['Liberation Sans', 'DejaVu Sans']

fig = plt.figure(figsize=(13.54, 7.66), dpi=100)
boxes = [[0.0554, 0.7937, 0.9106, 0.1593],
         [0.0554, 0.5561, 0.9106, 0.1554],
         [0.0554, 0.3146, 0.9106, 0.1567],
         [0.0554, 0.0744, 0.9106, 0.1567]]

t_r = 0.015 + np.array(t_radius_us) * 1e-6
t_m = 0.015 + np.array(t_mu_us) * 1e-6
t_v = 0.015 + np.array(t_vel_us) * 1e-6
series = [(t_r, radius), (t_m, friction_coef), (t_m, torque), (t_v, velocity_sum)]

line_col = '#262626'
for i, (tt, yy) in enumerate(series):
    ax = fig.add_axes(boxes[i])
    ax.plot(tt, yy, color=line_col, lw=0.8)
    ax.set_xlim(0.015, 0.0152)
    ax.set_ylim(*y_limits[i])
    ax.xaxis.set_major_locator(FixedLocator(x_ticks))
    ax.xaxis.set_major_formatter(FixedFormatter(x_labels))
    ax.yaxis.set_major_locator(FixedLocator(y_ticks[i]))
    ax.yaxis.set_major_formatter(FixedFormatter(y_labels[i]))
    ax.tick_params(direction='in', length=9.5, width=0.8, color=line_col,
                   top=True, right=True, labelsize=14.2, labelcolor='#262626')
    ax.tick_params(axis='x', pad=9)
    ax.tick_params(axis='y', pad=6)
    for sp in ax.spines.values():
        sp.set_color(line_col)
        sp.set_linewidth(0.8)
    ax.set_title(titles[i], fontsize=16, fontweight='bold', pad=6)
    if i == 3:
        ax.set_xlabel("time (s)", fontsize=15.5, color='#262626', labelpad=4)

fig.savefig("out.png", dpi=100)
